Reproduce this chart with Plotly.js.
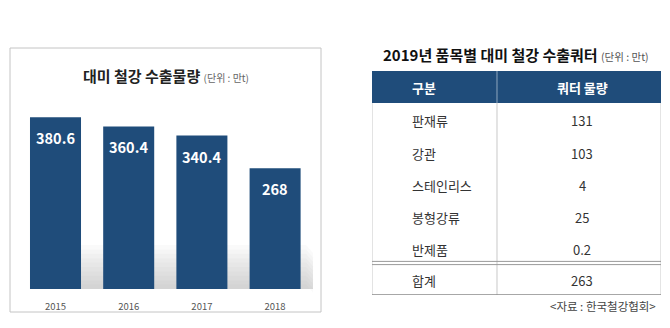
<!DOCTYPE html>
<html>
<head>
<meta charset="utf-8">
<script src="https://cdn.plot.ly/plotly-3.0.1.min.js"></script>
<style>html,body{margin:0;padding:0;background:#fff;}#chart{width:670px;height:328px;}</style>
</head>
<body>
<div id="chart"></div>
<script>
// ---- data ----
const years = ['2015', '2016', '2017', '2018'];
const exportVolume = [380.6, 360.4, 340.4, 268];
const tableHeader = ['구분', '쿼터 물량'];
const itemNames = ['판재류', '강관', '스테인리스', '봉형강류', '반제품'];
const itemQuota = ['131', '103', '4', '25', '0.2'];
const totalLabel = '합계';
const totalQuota = '263';
const chartTitle = '대미 철강 수출물량';
const tableTitle = '2019년 품목별 대미 철강 수출쿼터';
const unitText = '(단위 : 만t)';
const sourceText = '&lt;자료 : 한국철강협회&gt;';

// ---- styling ----
const FONT = '"Noto Sans CJK KR", "Noto Sans", sans-serif';
const NAVY = '#1f4c7a';
const W = 670, H = 328;
const px = v => v / W;
const py = v => 1 - v / H;

const traces = [{
  type: 'bar',
  x: years,
  y: exportVolume,
  marker: {color: NAVY},
  hoverinfo: 'skip',
  xaxis: 'x', yaxis: 'y'
}];

const annotations = [];
// value labels inside bars (category axis -> serial index)
years.forEach((yr, i) => {
  annotations.push({
    x: i, y: exportVolume[i], xref: 'x', yref: 'y',
    text: '<b>' + exportVolume[i] + '</b>',
    showarrow: false, xanchor: 'center', yanchor: 'top', yshift: -8,
    font: {family: FONT, size: 14.5, color: '#ffffff'}
  });
});
// left title
annotations.push({
  x: px(166), y: py(75), xref: 'paper', yref: 'paper',
  text: '<b>' + chartTitle + '</b> <span style="font-size:10px;color:#666">' + unitText + '</span>',
  showarrow: false, xanchor: 'center', yanchor: 'middle',
  font: {family: FONT, size: 15, color: '#222'}
});
// table title
annotations.push({
  x: px(516), y: py(54), xref: 'paper', yref: 'paper',
  text: '<b>' + tableTitle + '</b> <span style="font-size:10.5px;color:#555">' + unitText + '</span>',
  showarrow: false, xanchor: 'center', yanchor: 'middle',
  font: {family: FONT, size: 15, color: '#111'}
});
// table header
const COL1X = 0.1315, COL2X = 0.727, DIVX = 0.4325;
annotations.push({x: COL1X, y: 0, xref: 'x2', yref: 'y2', text: '<b>' + tableHeader[0] + '</b>',
  showarrow: false, xanchor: 'left', yshift: -1, font: {family: FONT, size: 13, color: '#fff'}});
annotations.push({x: COL2X, y: 0, xref: 'x2', yref: 'y2', text: '<b>' + tableHeader[1] + '</b>',
  showarrow: false, xanchor: 'center', yshift: -1, font: {family: FONT, size: 13, color: '#fff'}});
// body rows
itemNames.forEach((name, i) => {
  annotations.push({x: COL1X, y: i + 1, xref: 'x2', yref: 'y2', text: name,
    showarrow: false, xanchor: 'left', yshift: -2, font: {family: FONT, size: 13, color: '#333'}});
  annotations.push({x: COL2X, y: i + 1, xref: 'x2', yref: 'y2', text: itemQuota[i],
    showarrow: false, xanchor: 'center', yshift: -2, font: {family: FONT, size: 13, color: '#333'}});
});
annotations.push({x: COL1X, y: itemNames.length + 1, xref: 'x2', yref: 'y2', text: totalLabel,
  showarrow: false, xanchor: 'left', yshift: -1, font: {family: FONT, size: 13, color: '#333'}});
annotations.push({x: COL2X, y: itemNames.length + 1, xref: 'x2', yref: 'y2', text: totalQuota,
  showarrow: false, xanchor: 'center', yshift: -1, font: {family: FONT, size: 13, color: '#333'}});
// source
annotations.push({
  x: px(658), y: py(306), xref: 'paper', yref: 'paper', text: sourceText,
  showarrow: false, xanchor: 'right', yanchor: 'middle',
  font: {family: FONT, size: 11.5, color: '#444'}
});

const shapes = [];
// chart frame
shapes.push({type: 'rect', xref: 'paper', yref: 'paper', x0: px(10), x1: px(321), y0: py(312), y1: py(48),
  line: {color: '#c4c4c4', width: 1}, layer: 'below'});
// floor shadow (stacked translucent bands -> vertical gradient)
const nBands = 10;
for (let k = 0; k < nBands; k++) {
  const top = 245 + k * 4.4;
  shapes.push({type: 'path', xref: 'paper', yref: 'paper',
    path: 'M ' + px(34) + ' ' + py(289) + ' L ' + px(34) + ' ' + py(top) + ' L ' + px(306) + ' ' + py(top) +
          ' L ' + px(313) + ' ' + py(top + 8) + ' L ' + px(313) + ' ' + py(289) + ' Z',
    fillcolor: 'rgba(160,160,160,0.05)', line: {width: 0}, layer: 'below'});
}
// table header fill
const nRows = itemNames.length + 2; // header + items + total
shapes.push({type: 'rect', xref: 'x2', yref: 'y2', x0: 0, x1: 1, y0: -0.5, y1: 0.5,
  fillcolor: NAVY, line: {width: 0}});
// header divider
shapes.push({type: 'line', xref: 'x2', yref: 'y2', x0: DIVX, x1: DIVX, y0: -0.5, y1: 0.5,
  line: {color: '#8fa6bf', width: 1}});
// body borders
const lastY = nRows - 0.5;
shapes.push({type: 'line', xref: 'x2', yref: 'y2', x0: 0, x1: 0, y0: 0.5, y1: lastY, line: {color: '#c8c8c8', width: 1}});
shapes.push({type: 'line', xref: 'x2', yref: 'y2', x0: 1, x1: 1, y0: 0.5, y1: lastY, line: {color: '#c8c8c8', width: 1}});
shapes.push({type: 'line', xref: 'x2', yref: 'y2', x0: DIVX, x1: DIVX, y0: 0.5, y1: lastY, line: {color: '#c8c8c8', width: 1}});
shapes.push({type: 'line', xref: 'x2', yref: 'y2', x0: 0, x1: 1, y0: lastY, y1: lastY, line: {color: '#8a8a8a', width: 1.3}});
// double line before total
const dblY = itemNames.length + 0.5;
shapes.push({type: 'line', xref: 'x2', yref: 'y2', x0: 0, x1: 1, y0: dblY - 0.05, y1: dblY - 0.05, line: {color: '#9a9a9a', width: 1}});
shapes.push({type: 'line', xref: 'x2', yref: 'y2', x0: 0, x1: 1, y0: dblY + 0.05, y1: dblY + 0.05, line: {color: '#9a9a9a', width: 1}});

const layout = {
  width: W, height: H,
  margin: {l: 0, r: 0, t: 0, b: 0},
  paper_bgcolor: '#fff', plot_bgcolor: 'rgba(0,0,0,0)',
  showlegend: false,
  bargap: 0.303,
  font: {family: FONT},
  xaxis: {
    domain: [px(18.9), px(311.7)], anchor: 'y', type: 'category', range: [-0.5, 3.5],
    showgrid: false, zeroline: false, showline: false, ticks: '',
    tickfont: {family: FONT, size: 9.5, color: '#555'}, ticklabelstandoff: 10, fixedrange: true
  },
  yaxis: {
    domain: [py(289), py(99.6)], anchor: 'x', range: [0, 420], visible: false, fixedrange: true
  },
  xaxis2: {domain: [px(372), px(661)], anchor: 'y2', range: [0, 1], visible: false, fixedrange: true},
  yaxis2: {domain: [py(295), py(71)], anchor: 'x2', range: [nRows - 0.5, -0.5], visible: false, fixedrange: true},
  annotations: annotations,
  shapes: shapes
};

Plotly.newPlot('chart', traces, layout, {staticPlot: true, displayModeBar: false});
</script>
</body>
</html>
